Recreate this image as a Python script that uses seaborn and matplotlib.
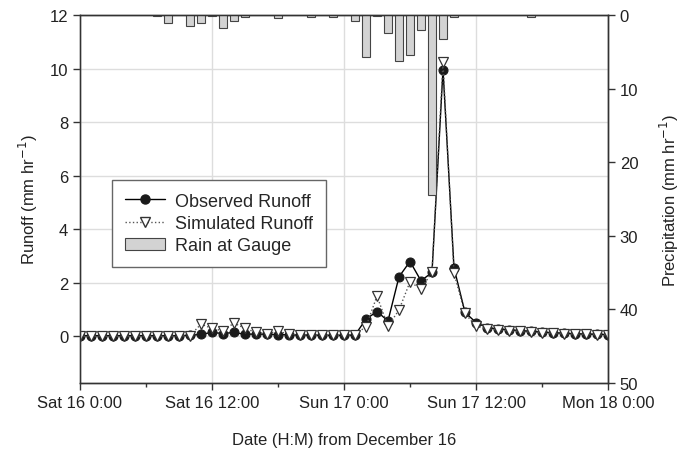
import pandas as pd
import seaborn as sns
import matplotlib.pyplot as plt
from matplotlib.lines import Line2D
from matplotlib.patches import Patch

# hourly runoff, hours after Sat 16 Dec 0:00
hours = list(range(49))
observed = [0.02, 0.02, 0.02, 0.02, 0.02, 0.02, 0.02, 0.02, 0.02, 0.02, 0.03,
            0.07, 0.14, 0.1, 0.14, 0.07, 0.08, 0.07, 0.06, 0.05, 0.04, 0.04, 0.03, 0.03, 0.03,
            0.04, 0.64, 0.92, 0.57, 2.22, 2.79, 2.07, 2.38, 9.96, 2.55, 0.89, 0.51,
            0.32, 0.27, 0.24, 0.21, 0.18, 0.15, 0.13, 0.11, 0.09, 0.08, 0.07, 0.06]
simulated = [0.0, 0.0, 0.0, 0.0, 0.0, 0.0, 0.0, 0.0, 0.0, 0.01, 0.02,
             0.45, 0.29, 0.2, 0.49, 0.29, 0.14, 0.1, 0.18, 0.08, 0.05, 0.04, 0.03, 0.03, 0.03,
             0.05, 0.36, 1.5, 0.37, 0.98, 2.03, 1.76, 2.4, 10.24, 2.35, 0.85, 0.37,
             0.27, 0.24, 0.21, 0.18, 0.15, 0.13, 0.11, 0.09, 0.08, 0.07, 0.06, 0.05]

# rain gauge (mm/hr)
rain_hours = [7, 8, 10, 11, 12, 13, 14, 15, 18, 21, 23, 25, 26, 27, 28, 29, 30, 31, 32, 33, 34, 41]
rain = [0.2, 1.1, 1.5, 1.1, 0.2, 1.8, 0.8, 0.3, 0.45, 0.3, 0.3, 0.8, 5.7, 0.2, 2.5,
        6.3, 5.4, 2.1, 24.5, 3.2, 0.3, 0.3]

tick_labels = ["Sat 16 0:00", "Sat 16 12:00", "Sun 17 0:00", "Sun 17 12:00", "Mon 18 0:00"]

start = pd.Timestamp("2006-12-16 00:00")
times = start + pd.to_timedelta(hours, unit="h")
rain_times = start + pd.to_timedelta(rain_hours, unit="h")

sns.set_style("ticks")
plt.rcParams["font.family"] = ["Liberation Sans", "DejaVu Sans"]
plt.rcParams["font.size"] = 12

fig = plt.figure(figsize=(6.82, 4.52), dpi=100)
ax = fig.add_axes([0.1173, 0.1504, 0.7742, 0.8142])
ax2 = ax.twinx()

ax.grid(True, color="#dddddd", linewidth=1)
ax.set_axisbelow(True)

sns.lineplot(x=times, y=observed, ax=ax, color="black", linewidth=1,
             marker="o", markersize=6.5, markerfacecolor="#1a1a1a",
             markeredgecolor="#1a1a1a")
sns.lineplot(x=times, y=simulated, ax=ax, color="#555555", linewidth=1, linestyle=":",
             marker="v", markersize=7.5, markerfacecolor="white",
             markeredgecolor="#333333", markeredgewidth=0.9)

ax2.bar(rain_times, rain, width=0.65 / 24, color="#d3d3d3", edgecolor="#444444",
        linewidth=0.8, align="center")

ax.set_xlim(times[0], times[-1])
ax.set_ylim(-1.75, 12)
ax.set_yticks([0, 2, 4, 6, 8, 10, 12])
ax2.set_ylim(50, 0)
ax2.set_yticks([0, 10, 20, 30, 40, 50])

major = [start + pd.Timedelta(hours=12 * i) for i in range(5)]
minor = [start + pd.Timedelta(hours=6 + 12 * i) for i in range(4)]
ax.set_xticks(major)
ax.set_xticklabels(tick_labels)
ax.set_xticks(minor, minor=True)

for a in (ax, ax2):
    a.tick_params(which="major", direction="out", length=5, width=1, color="#333333",
                  labelsize=12, labelcolor="#222222")
    a.tick_params(which="minor", direction="out", length=3, width=1, color="#333333")
    for s in a.spines.values():
        s.set_visible(True)
        s.set_color("#333333")
        s.set_linewidth(1)
ax.spines["left"].set_color("#777777")

ax.set_ylabel("Runoff (mm hr$^{-1}$)", fontsize=12, color="#222222", labelpad=7)
ax2.set_ylabel("Precipitation (mm hr$^{-1}$)", fontsize=12, color="#222222", labelpad=14)
ax.set_xlabel("Date (H:M) from December 16", fontsize=12, color="#222222", labelpad=16)

handles = [
    Line2D([], [], color="black", linewidth=1, marker="o", markersize=6.5,
           markerfacecolor="#1a1a1a", markeredgecolor="#1a1a1a"),
    Line2D([], [], color="#555555", linewidth=1, linestyle=":", marker="v", markersize=7.5,
           markerfacecolor="white", markeredgecolor="#333333"),
    Patch(facecolor="#d3d3d3", edgecolor="#444444", linewidth=0.8),
]
leg = ax2.legend(handles, ["Observed Runoff", "Simulated Runoff", "Rain at Gauge"],
                 loc="upper left", bbox_to_anchor=(0.061, 0.552), fancybox=False,
                 framealpha=1, edgecolor="#666666", fontsize=13, handlelength=2.2,
                 handletextpad=0.6, borderpad=0.7, labelspacing=0.3,
                 borderaxespad=0)
leg.get_frame().set_linewidth(1)

fig.savefig("out.png", dpi=100)
